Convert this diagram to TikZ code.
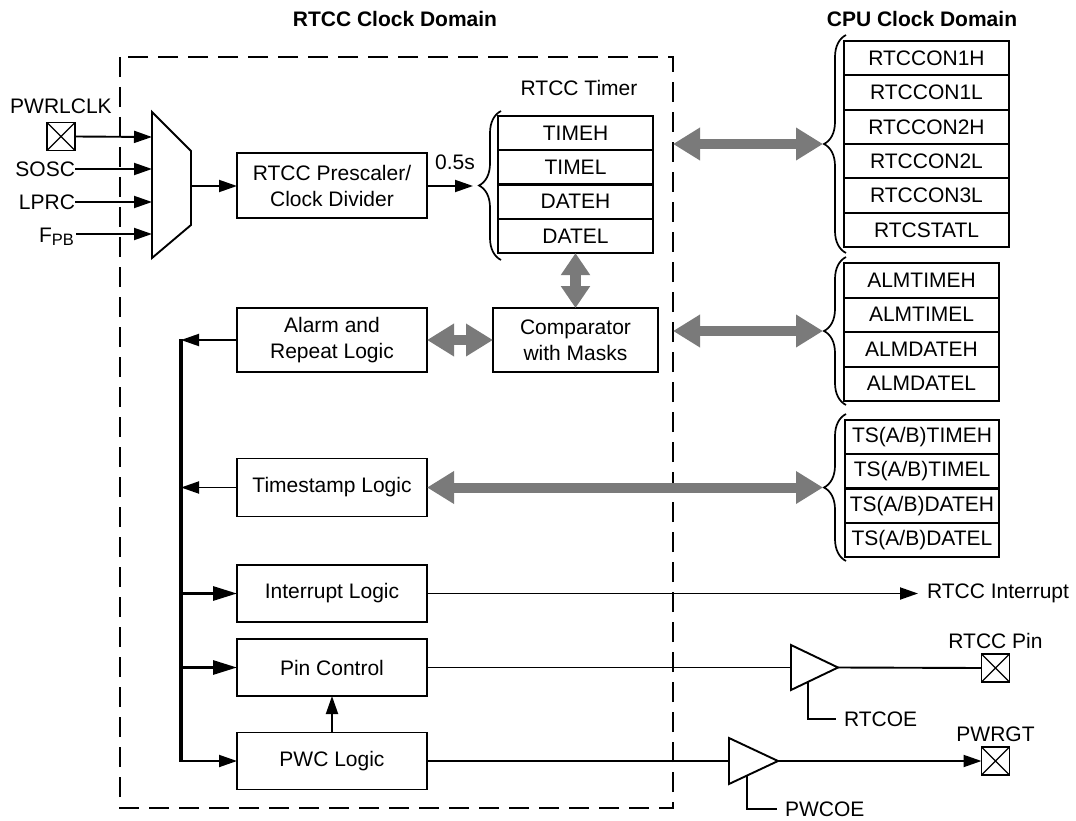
\documentclass[tikz,border=0pt]{standalone}
\usepackage{fontspec}
\setmainfont{Liberation Sans}
\usetikzlibrary{arrows.meta,decorations.pathreplacing,calc}
\definecolor{agray}{RGB}{122,122,122}
\begin{document}
\begin{tikzpicture}[x=1pt,y=-1pt,
 every node/.style={font=\fontsize{21}{26}\selectfont, inner sep=0pt, outer sep=0pt},
 blk/.style={draw, line width=1.9pt, minimum width=190pt, align=center},
 reg/.style={draw, line width=1.9pt, minimum height=34.4pt},
 sig/.style={line width=1.9pt},
 arrowend/.style={sig,-{Triangle[length=18pt,width=12pt]}},
 busarrow/.style={line width=3pt,-{Triangle[length=24pt,width=14pt]}},
 bigarr/.style={draw=agray, line width=10pt, {Triangle[length=27pt,width=31pt]}-{Triangle[length=27pt,width=31pt]}},
 smallbig/.style={draw=agray, line width=10.5pt, {Triangle[length=22pt,width=28pt]}-{Triangle[length=22pt,width=28pt]}},
 brc/.style={decorate, decoration={brace, amplitude=22pt}, line width=1.7pt},
 pinbox/.style={draw, line width=1.6pt, minimum width=28pt, minimum height=28pt},
 dombox/.style={line width=1.7pt, dash pattern=on 20pt off 10pt},
 headtext/.style={font=\fontsize{21}{26}\selectfont\bfseries}
]
\useasboundingbox (0,0) rectangle (1076,821);

% titles
\node[headtext] (t1) at (395,19) {RTCC Clock Domain};
\node[headtext] (t2) at (922,19) {CPU Clock Domain};

% domain border
\draw[dombox] (120,57) rectangle (673,808);

% inputs
\node (pwrl) at (61,106) {PWRLCLK};
\node[pinbox] (pwrlbox) at (61,136.5) {};
\draw[line width=1.3pt] (pwrlbox.north west) -- (pwrlbox.south east) (pwrlbox.south west) -- (pwrlbox.north east);
\node[anchor=east] (sosc) at (75,169) {SOSC};
\node[anchor=east] (lprc) at (75,202) {LPRC};
\node[anchor=base east] (fpb) at (74,243) {F\raisebox{-2pt}{\fontsize{16.5}{16}\selectfont PB}};

% mux
\coordinate (m1) at (152,112);
\coordinate (m2) at (191,151);
\coordinate (m3) at (191,225);
\coordinate (m4) at (152,258);
\draw[sig] (m1) -- (m2) -- (m3) -- (m4) -- cycle;
\coordinate (mi1) at (152,137);
\coordinate (mi2) at (152,169);
\coordinate (mi3) at (152,202);
\coordinate (mi4) at (152,234);
\coordinate (mo) at (191,186);
\draw[arrowend] (pwrlbox.east) -- (mi1);
\draw[arrowend] (sosc.east) -- (mi2);
\draw[arrowend] (lprc.east) -- (mi3);
\draw[arrowend] (76,234) coordinate (fpbe) -- (mi4);

% prescaler
\node[blk, minimum height=65pt] (presc) at (332,185.5) {RTCC Prescaler/\\Clock Divider};
\draw[arrowend] (mo) -- (presc.west |- mo);

% RTCC timer
\node (ttl) at (579,88) {RTCC Timer};
\node[reg, minimum width=155pt] (timeh) at (575.5,133.1) {TIMEH};
\node[reg, minimum width=155pt] (timel) at (575.5,167.4) {TIMEL};
\node[reg, minimum width=155pt] (dateh) at (575.5,201.6) {DATEH};
\node[reg, minimum width=155pt] (datel) at (575.5,235.9) {DATEL};
\draw[brc] (501,260) -- (501,111);
\coordinate (tbtip) at (473,186);
\draw[arrowend] (presc.east |- tbtip) -- (tbtip);
\node (half) at (455,162) {0.5s};

% CPU regs
\node[reg, minimum width=165pt] (c1) at (926.5,58.2) {RTCCON1H};
\node[reg, minimum width=165pt] (c2) at (926.5,92.5) {RTCCON1L};
\node[reg, minimum width=165pt] (c3) at (926.5,126.8) {RTCCON2H};
\node[reg, minimum width=165pt] (c4) at (926.5,161.2) {RTCCON2L};
\node[reg, minimum width=165pt] (c5) at (926.5,195.5) {RTCCON3L};
\node[reg, minimum width=165pt] (c6) at (926.5,229.8) {RTCSTATL};
\draw[brc] (846,253) -- (846,35);
\coordinate (cbtip) at (823,144);
\coordinate (cbL) at (673,144);
\draw[bigarr] (cbL) -- (cbtip);

% ALM regs
\node[reg, minimum width=155pt] (a1) at (921.5,280.25) {ALMTIMEH};
\node[reg, minimum width=155pt] (a2) at (921.5,314.75) {ALMTIMEL};
\node[reg, minimum width=155pt] (a3) at (921.5,349.25) {ALMDATEH};
\node[reg, minimum width=155pt] (a4) at (921.5,383.75) {ALMDATEL};
\draw[brc] (846,405) -- (846,257);
\coordinate (abtip) at (823,331);
\coordinate (abL) at (673,331);
\draw[bigarr] (abL) -- (abtip);

% TS regs
\node[reg, minimum width=154pt] (s1) at (922,437.1) {TS(A/B)TIMEH};
\node[reg, minimum width=154pt] (s2) at (922,471.4) {TS(A/B)TIMEL};
\node[reg, minimum width=154pt] (s3) at (922,505.6) {TS(A/B)DATEH};
\node[reg, minimum width=154pt] (s4) at (922,539.9) {TS(A/B)DATEL};
\draw[brc] (846,561) -- (846,414);
\coordinate (sbtip) at (823,487.5);

% logic blocks
\node[blk, minimum height=64pt] (alarm) at (332,340) {Alarm and\\Repeat Logic};
\node[blk, minimum width=165pt, minimum height=64pt] (comp) at (575.5,340) {Comparator\\with Masks};
\node[blk, minimum height=58pt] (tstamp) at (332,487.5) {Timestamp Logic};
\node[blk, minimum height=57pt] (intr) at (332,593.5) {Interrupt Logic};
\node[blk, minimum height=57pt] (pinc) at (332,667.5) {Pin Control};
\node[blk, minimum height=57pt] (pwc) at (332,761) {PWC Logic};

% gray buses
\draw[smallbig] (datel.south) -- (comp.north);
\draw[bigarr] (alarm.east) -- (comp.west);
\draw[bigarr] (tstamp.east) -- (sbtip);

% internal bus
\coordinate (bt) at (181,339);
\coordinate (bb) at (181,762);
\draw[line width=3.2pt] (bt) -- (bb);
\draw[arrowend] (alarm.west) -- (181,340) coordinate (ba);
\draw[arrowend] (tstamp.west) -- (181,487.5) coordinate (bs);
\draw[busarrow] (181,593.5) coordinate (bi) -- (intr.west);
\draw[busarrow] (181,667.5) coordinate (bp) -- (pinc.west);
\draw[arrowend] (181,761) coordinate (bw) -- (pwc.west);
\draw[arrowend] (pwc.north) -- (pinc.south);

% interrupt output
\node[anchor=west] (rint) at (927,593.5) {RTCC Interrupt};
\draw[arrowend] (intr.east) -- ($(rint.west)+(-9,0)$);

% RTCC pin buffer
\coordinate (ba1) at (791,645);
\coordinate (ba2) at (838,667.5);
\coordinate (ba3) at (791,690);
\draw[sig] (ba1) -- (ba2) -- (ba3) -- cycle;
\draw[sig] (pinc.east) -- (ba1 |- ba2);
\node[pinbox] (rpin) at (995.5,668) {};
\draw[line width=1.3pt] (rpin.north west) -- (rpin.south east) (rpin.south west) -- (rpin.north east);
\node (rpinl) at (995.5,641) {RTCC Pin};
\draw[sig] (ba2) -- (rpin.west);
\node[anchor=west] (rtcoe) at (844,719) {RTCOE};
\draw[sig] (808,681.5) coordinate (bae) -- (808,719) -- ($(rtcoe.west)+(-8,0)$);

% PWC buffer
\coordinate (bb1) at (729,738);
\coordinate (bb2) at (778,761);
\coordinate (bb3) at (729,784);
\draw[sig] (bb1) -- (bb2) -- (bb3) -- cycle;
\draw[sig] (pwc.east) -- (bb1 |- bb2);
\node[pinbox] (gpin) at (995.5,761) {};
\draw[line width=1.3pt] (gpin.north west) -- (gpin.south east) (gpin.south west) -- (gpin.north east);
\node (gpinl) at (995.5,734) {PWRGT};
\draw[arrowend] (bb2) -- (gpin.west);
\node[anchor=west] (pwcoe) at (785,809) {PWCOE};
\draw[sig] (747,775) coordinate (bbe) -- (747,809) -- ($(pwcoe.west)+(-8,0)$);
\end{tikzpicture}
\end{document}
